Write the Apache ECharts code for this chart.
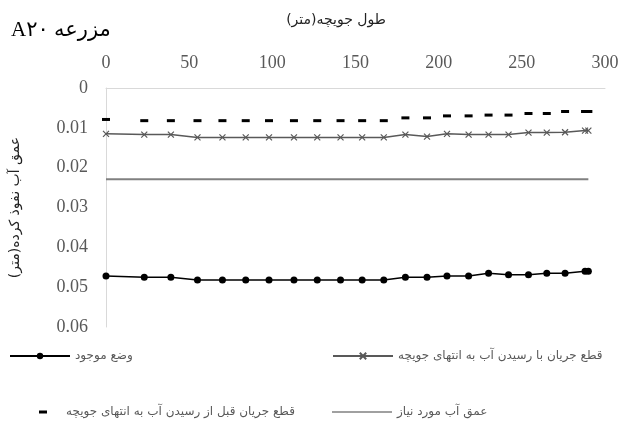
<!DOCTYPE html>
<html>
<head>
<meta charset="utf-8">
<script src="https://cdn.jsdelivr.net/npm/echarts@6/dist/echarts.min.js"></script>
<style>html,body{margin:0;padding:0;background:#fff}#c{width:624px;height:421px}</style>
</head>
<body>
<div id="c"></div>
<script>
// Furrow length (m)
var distances = [0, 23, 39, 55, 70, 84, 98, 113, 127, 141, 154, 167, 180, 193, 205, 218, 230, 242, 254, 265, 276, 288, 290];
// Existing condition
var existing = [0.0472, 0.0475, 0.0475, 0.0482, 0.0482, 0.0482, 0.0482, 0.0482, 0.0482, 0.0482, 0.0482, 0.0482, 0.0475, 0.0475, 0.0472, 0.0472, 0.0465, 0.0469, 0.0469, 0.0465, 0.0465, 0.0460, 0.0460];
// Cutoff when water reaches furrow end
var cutoffAtEnd = [0.0115, 0.0117, 0.0117, 0.0124, 0.0124, 0.0124, 0.0124, 0.0124, 0.0124, 0.0124, 0.0124, 0.0124, 0.0117, 0.0122, 0.0115, 0.0117, 0.0117, 0.0117, 0.0112, 0.0112, 0.0111, 0.0107, 0.0107];
// Cutoff before water reaches furrow end
var cutoffBefore = [0.0079, 0.0082, 0.0082, 0.0082, 0.0082, 0.0082, 0.0082, 0.0082, 0.0082, 0.0082, 0.0082, 0.0082, 0.0075, 0.0075, 0.0070, 0.0070, 0.0068, 0.0068, 0.0064, 0.0064, 0.0059, 0.0059, 0.0059];
// Required water depth
var requiredX = [0, 290];
var requiredDepth = [0.0229, 0.0229];

var names = ['وضع موجود', 'قطع جریان با رسیدن آب به انتهای جویچه', 'قطع جریان قبل از رسیدن آب به انتهای جویچه', 'عمق آب مورد نیاز'];
var xTicks = {min: 0, max: 300, interval: 50};
var yTicks = {min: 0, max: 0.06, interval: 0.01};

function pairs(xs, ys) { return xs.map(function (x, i) { return [x, ys[i]]; }); }

var arabicFont = "'DejaVu Sans', sans-serif";
var numFont = "'Liberation Serif', 'DejaVu Serif', serif";
var legendText = {fontSize: 12, color: '#595959', fontFamily: arabicFont};

var chart = echarts.init(document.getElementById('c'));
chart.setOption({
  animation: false,
  backgroundColor: '#fff',
  title: [
    {text: 'A۲۰ مزرعه', left: 6, top: 15, textStyle: {fontSize: 21, fontWeight: 'normal', color: '#000', fontFamily: "'Liberation Serif', 'DejaVu Sans', serif"}},
    {text: 'طول جویچه(متر)', left: 331, top: 8, textAlign: 'center', textStyle: {fontSize: 14, fontWeight: 'normal', color: '#222', fontFamily: arabicFont}}
  ],
  grid: {left: 106, top: 88, right: 19, bottom: 94, containLabel: false},
  xAxis: {
    type: 'value', position: 'top', min: xTicks.min, max: xTicks.max, interval: xTicks.interval,
    axisLine: {show: true, lineStyle: {color: '#d9d9d9', width: 1}},
    axisTick: {show: false}, splitLine: {show: false},
    axisLabel: {fontSize: 18, color: '#595959', fontFamily: numFont, margin: 16}
  },
  yAxis: {
    type: 'value', inverse: true, min: yTicks.min, max: yTicks.max, interval: yTicks.interval,
    name: 'عمق آب نفوذ کرده(متر)', nameLocation: 'middle', nameRotate: 90, nameGap: 84,
    nameTextStyle: {fontSize: 14, color: '#222', fontFamily: arabicFont},
    axisLine: {show: true, lineStyle: {color: '#d9d9d9', width: 1}},
    axisTick: {show: false}, splitLine: {show: false},
    axisLabel: {fontSize: 18, color: '#595959', fontFamily: numFont, margin: 18,
      formatter: function (v) { return v === 0 ? '0' : v.toFixed(2); }}
  },
  legend: [
    {data: [names[0]], left: 4, top: 345, itemWidth: 60, itemHeight: 8, textStyle: legendText},
    {data: [names[1]], left: 327, top: 345, itemWidth: 60, itemHeight: 8, textStyle: legendText},
    {data: [{name: names[2], icon: 'rect'}], left: 34, top: 401, itemWidth: 8, itemHeight: 3, itemGap: 0, textStyle: Object.assign({}, legendText, {padding: [0, 0, 0, 14]})},
    {data: [{name: names[3], icon: 'rect'}], left: 327, top: 401, itemWidth: 60, itemHeight: 1.5, textStyle: legendText}
  ],
  series: [
    {
      name: names[0], type: 'line', data: pairs(distances, existing),
      symbol: 'circle', symbolSize: 7, showAllSymbol: true,
      lineStyle: {color: '#000', width: 1.5}, itemStyle: {color: '#000'}
    },
    {
      name: names[1], type: 'line', data: pairs(distances, cutoffAtEnd),
      symbol: 'path://M0,0L10,10M10,0L0,10', symbolSize: 6, showAllSymbol: true,
      lineStyle: {color: '#595959', width: 1.5},
      itemStyle: {color: 'none', borderColor: '#595959', borderWidth: 1.2}
    },
    {
      name: names[2], type: 'line', data: pairs(distances, cutoffBefore),
      symbol: 'rect', symbolSize: [8, 3], showAllSymbol: true,
      lineStyle: {width: 0, opacity: 0}, itemStyle: {color: '#000'}
    },
    {
      name: names[3], type: 'line', data: pairs(requiredX, requiredDepth),
      symbol: 'none', lineStyle: {color: '#808080', width: 2}, itemStyle: {color: '#808080'}
    }
  ]
});
</script>
</body>
</html>
